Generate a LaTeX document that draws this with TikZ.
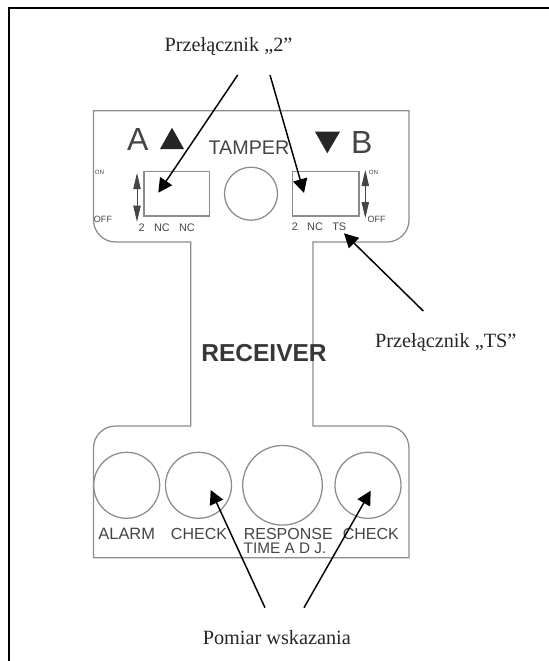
\documentclass[tikz,border=0pt]{standalone}
\usepackage{fontspec}
\setmainfont{Liberation Serif}
\setsansfont{Liberation Sans}
\usetikzlibrary{arrows.meta}
\definecolor{panelgray}{HTML}{8C8C8C}
\definecolor{labelgray}{HTML}{454545}
\tikzset{
  panel/.style={draw=panelgray, line width=0.95pt},
  sans/.style={font=\sffamily\fontsize{#1}{#1}\selectfont, text=labelgray, inner sep=0pt},
  boldsans/.style={font=\sffamily\bfseries\fontsize{#1}{#1}\selectfont, text=labelgray!80!black, inner sep=0pt},
  note/.style={font=\fontsize{15.2}{15.2}\selectfont, text=black!85, inner sep=0pt},
  pointer/.style={draw=black, line width=1.1pt, arrows={-{Triangle[length=10.5pt,width=10.8pt]}}},
  slide/.style={draw=labelgray, line width=0.6pt, arrows={{Triangle[length=12pt,width=5.5pt]}-{Triangle[length=12pt,width=5.5pt]}}}
}
\begin{document}
\begin{tikzpicture}
\def\u{0.75pt}
\useasboundingbox (0, 0) rectangle (549*\u, -661*\u);

\draw [line width=1.7pt] (9*\u, -661*\u) -- (9*\u, -7.8*\u) -- (549*\u, -7.8*\u);

\draw [panel] (93.5*\u, -110.7*\u) -- (409*\u, -110.7*\u) -- (409*\u, -220*\u)
  arc [start angle=0, end angle=-90, radius=22*\u] -- (313*\u, -242*\u) -- (313*\u, -426*\u) -- (387*\u, -426*\u)
  arc [start angle=90, end angle=0, radius=22*\u] -- (409*\u, -557.7*\u) -- (93.5*\u, -557.7*\u) -- (93.5*\u, -448*\u)
  arc [start angle=180, end angle=90, radius=22*\u] -- (190.7*\u, -426*\u) -- (190.7*\u, -242*\u) -- (115.5*\u, -242*\u)
  arc [start angle=270, end angle=180, radius=22*\u] -- cycle;

\draw [panel] (144*\u, -171.7*\u) rectangle (209.7*\u, -216*\u);
\draw [panel] (292.7*\u, -171.7*\u) rectangle (359*\u, -216*\u);
\draw [panel] (251*\u, -193.7*\u) circle [radius=26.5*\u];
\draw [panel] (126.7*\u, -485.3*\u) circle [radius=33*\u];
\draw [panel] (198.5*\u, -485.3*\u) circle [radius=33*\u];
\draw [panel] (282.5*\u, -485.3*\u) circle [radius=39.8*\u];
\draw [panel] (368*\u, -485.3*\u) circle [radius=33*\u];

\fill [black!85] (160*\u, -149*\u) -- (184*\u, -149*\u) -- (172*\u, -127.7*\u) -- cycle;
\fill [black!85] (315*\u, -131.7*\u) -- (340*\u, -131.7*\u) -- (327.3*\u, -153.3*\u) -- cycle;

\coordinate (lefttop) at (137*\u, -173*\u);
\coordinate (leftbottom) at (137*\u, -221.7*\u);
\coordinate (righttop) at (365.3*\u, -170*\u);
\coordinate (rightbottom) at (365.3*\u, -218*\u);
\draw [slide] (lefttop) -- (leftbottom);
\draw [slide] (righttop) -- (rightbottom);

\node (lettera) [sans=24] at (137.7*\u, -139.5*\u) {A};
\node (letterb) [sans=24] at (361.7*\u, -142.5*\u) {B};
\node (tamper) [sans=14.8] at (249*\u, -148.2*\u) {TAMPER};

\node (onleft) [sans=4.6] at (99.5*\u, -172.7*\u) {ON};
\node (offleft) [sans=6.8] at (103*\u, -219.3*\u) {OFF};
\node (onright) [sans=4.6] at (373.5*\u, -172.7*\u) {ON};
\node (offright) [sans=6.8] at (376.7*\u, -219.3*\u) {OFF};

\node (twoleft) [sans=8.2] at (141.7*\u, -227.7*\u) {2};
\node (ncleft) [sans=8.2] at (162*\u, -227.7*\u) {NC};
\node (ncmid) [sans=8.2] at (187*\u, -227.7*\u) {NC};
\node (tworight) [sans=8.2] at (295*\u, -227*\u) {2};
\node (ncright) [sans=8.2] at (315*\u, -227*\u) {NC};
\node (ts) [sans=8.2] at (339.3*\u, -227*\u) {TS};

\node (receiver) [boldsans=18.4] at (264*\u, -353*\u) {RECEIVER};

\node (alarm) [sans=12.3] at (126.7*\u, -534*\u) {ALARM};
\node (checka) [sans=12] at (199*\u, -534*\u) {CHECK};
\node (response) [sans=12] at (288.3*\u, -534*\u) {RESPONSE};
\node (time) [sans=11.5] at (285*\u, -548.3*\u) {TIME A D J.};
\node (checkb) [sans=12] at (370.8*\u, -534*\u) {CHECK};

\node (switchtwo) [note] at (228.5*\u, -46*\u) {Przełącznik „2”};
\node (switchts) [note] at (445.8*\u, -342.7*\u) {Przełącznik „TS”};
\node (reading) [note] at (276.8*\u, -638*\u) {Pomiar wskazania};

\coordinate (twoa) at (237.7*\u, -75*\u);
\coordinate (tipa) at (158.3*\u, -192.7*\u);
\coordinate (twob) at (270*\u, -75*\u);
\coordinate (tipb) at (304*\u, -193*\u);
\coordinate (tsstart) at (423.3*\u, -311*\u);
\coordinate (tiptc) at (344*\u, -233.3*\u);
\coordinate (reada) at (265*\u, -607.7*\u);
\coordinate (tipd) at (210.7*\u, -490*\u);
\coordinate (readb) at (304*\u, -607.7*\u);
\coordinate (tipe) at (370.7*\u, -490.7*\u);

\draw [pointer] (twoa) -- (tipa);
\draw [pointer] (twob) -- (tipb);
\draw [pointer] (tsstart) -- (tiptc);
\draw [pointer] (reada) -- (tipd);
\draw [pointer] (readb) -- (tipe);
\end{tikzpicture}
\end{document}
